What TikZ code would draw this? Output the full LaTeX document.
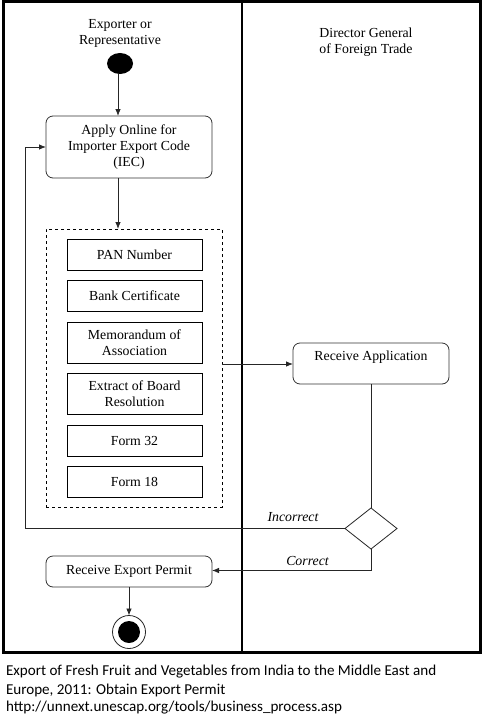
\documentclass[tikz,border=0pt]{standalone}
\usepackage{fontspec}
\setmainfont{Liberation Serif}
\newfontfamily\capfont{Carlito}
\usetikzlibrary{shapes.geometric,arrows.meta}
\begin{document}
\begin{tikzpicture}[x=1pt,y=-1pt,
  every node/.style={inner sep=0pt,outer sep=0pt},
  txt/.style={font=\fontsize{13.8}{16.5}\selectfont},
  lbl/.style={font=\fontsize{13.8}{16.5}\selectfont,align=center},
  rbox/.style={draw=black!80,line width=0.8pt,rounded corners=7pt,font=\fontsize{13.8}{16}\selectfont,align=center},
  dbox/.style={draw=black,line width=0.9pt,minimum width=135pt,font=\fontsize{13.8}{16}\selectfont,align=center},
  conn/.style={draw=black!85,line width=0.8pt},
  arr/.style={conn,-{Latex[length=7pt,width=5.5pt]}},
  captext/.style={font=\capfont\fontsize{15.1}{17.8}\selectfont,anchor=west}]
\useasboundingbox (0,0) rectangle (486,717);
\fill[white] (0,0) rectangle (486,717);
% frame and lanes
\draw[line width=3.2pt] (3.5,1.6) rectangle (480.5,652.5);
\draw[line width=1.8pt] (242,1.6) -- (242,652.5);
\node[lbl] (lane1) at (120,33.5) {Exporter or\\Representative};
\node[lbl] (lane2) at (366,42) {Director General\\of Foreign Trade};
% start
\node[ellipse,fill=black,minimum width=26pt,minimum height=21pt] (start) at (120,63.5) {};
% apply
\node[rbox,minimum width=166pt,minimum height=62pt] (apply) at (129,147) {Apply Online for\\Importer Export Code\\(IEC)};
% dashed group
\node[draw,dashed,line width=0.9pt,minimum width=176pt,minimum height=278pt] (group) at (134,368) {};
\node[dbox,minimum height=31pt] (pan) at (134.5,254.5) {PAN Number};
\node[dbox,minimum height=31pt] (bank) at (134.5,295.5) {Bank Certificate};
\node[dbox,minimum height=41pt] (memo) at (134.5,342.5) {Memorandum of\\Association};
\node[dbox,minimum height=41pt] (extract) at (134.5,393.5) {Extract of Board\\Resolution};
\node[dbox,minimum height=31pt] (f32) at (134.5,440.5) {Form 32};
\node[dbox,minimum height=31pt] (f18) at (134.5,481.5) {Form 18};
% receive application
\node[rbox,minimum width=156pt,minimum height=41pt] (recv) at (371,363.5) {};
\node[txt] (recvt) at (371,357) {Receive Application};
% decision
\node[diamond,draw=black!85,line width=0.8pt,minimum width=52pt,minimum height=41pt,aspect=1.27] (dec) at (371,528.5) {};
% export permit
\node[rbox,minimum width=166pt,minimum height=31pt] (permit) at (129,571.5) {Receive Export Permit};
% end
\node[circle,draw=black!85,line width=0.8pt,minimum size=33pt] (end) at (129,632) {};
\node[circle,fill=black,minimum size=22pt] (endin) at (129,632) {};
% connectors
\draw[arr] (start.south -| 118,0) -- (apply.north -| 118,0);
\draw[arr] (apply.south -| 118,0) -- (group.north -| 118,0);
\draw[arr] (group.east |- 0,364) -- (recv.west |- 0,364);
\draw[conn] (recv.south) -- (dec.north);
\coordinate (incL) at (25.5,528.5);
\draw[arr] (dec.west) -- (incL) |- (apply.west);
\node[txt,font=\fontsize{13.8}{16}\selectfont\itshape] (inc) at (293,517) {Incorrect};
\draw[arr] (dec.south) |- (permit.east |- 0,570.5);
\node[txt,font=\fontsize{13.8}{16}\selectfont\itshape] (cor) at (307.5,561) {Correct};
\draw[arr] (permit.south) -- (end.north);
% caption
\node[captext] (c1) at (6,672) {Export of Fresh Fruit and Vegetables from India to the Middle East and};
\node[captext] (c2) at (6,690) {Europe, 2011: Obtain Export Permit};
\node[captext] (c3) at (6,708) {http://unnext.unescap.org/tools/business\_process.asp};
\end{tikzpicture}
\end{document}
